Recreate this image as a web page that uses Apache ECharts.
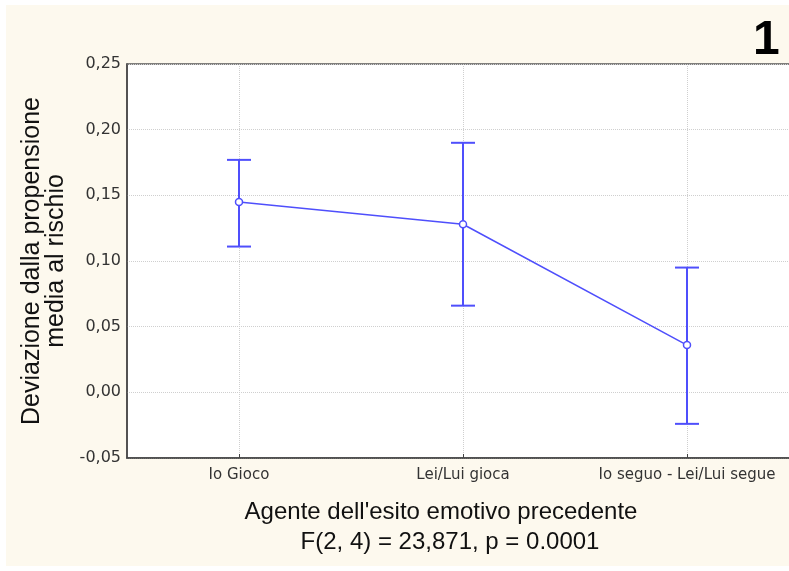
<!DOCTYPE html>
<html>
<head>
<meta charset="utf-8">
<script src="https://cdn.jsdelivr.net/npm/echarts@6/dist/echarts.min.js"></script>
<style>
html,body{margin:0;padding:0;background:#ffffff;overflow:hidden;}
#c{position:absolute;left:6px;top:5px;width:810px;height:561px;}
</style>
</head>
<body>
<div id="c"></div>
<script>
var categories = ['Io Gioco', 'Lei/Lui gioca', 'Io seguo - Lei/Lui segue'];
var means = [0.145, 0.128, 0.036];
var upper = [0.177, 0.190, 0.095];
var lower = [0.111, 0.066, -0.024];
var yTitle = 'Deviazione dalla propensione\nmedia al rischio';
var xTitle = "Agente dell'esito emotivo precedente";
var xSubtitle = 'F(2, 4) = 23,871, p = 0.0001';
var panelLabel = '1';

var labelFont = '"DejaVu Sans", "Liberation Sans", Arial, sans-serif';
var sans = '"Liberation Sans", Arial, sans-serif';
var blue = '#4f4ffc';

var chart = echarts.init(document.getElementById('c'));
var catIdx = categories.map(function (c, i) { return i; });

chart.setOption({
  backgroundColor: '#fdf9ee',
  animation: false,
  title: [
    {
      text: xTitle,
      left: 430,
      top: 490,
      textAlign: 'center',
      textStyle: { fontFamily: sans, fontSize: 24, fontWeight: 'normal', color: '#111' }
    },
    {
      text: xSubtitle,
      left: 439,
      top: 520,
      textAlign: 'center',
      textStyle: { fontFamily: sans, fontSize: 24, fontWeight: 'normal', color: '#111' }
    },
    {
      text: panelLabel,
      left: 742,
      top: 7,
      textStyle: { fontFamily: sans, fontSize: 48, fontWeight: 'bold', color: '#000' }
    }
  ],
  grid: {
    left: 121, top: 59, width: 672, height: 394,
    show: true, backgroundColor: '#ffffff', borderColor: '#555', borderWidth: 1.5
  },
  xAxis: {
    type: 'value',
    min: -0.5, max: 2.5,
    axisLine: { show: true, onZero: false, lineStyle: { color: '#444', width: 1.5 } },
    axisTick: { show: true, inside: true, length: 4, customValues: catIdx, lineStyle: { color: '#444' } },
    axisLabel: {
      customValues: catIdx,
      formatter: function (v) { return categories[Math.round(v)] || ''; },
      fontFamily: labelFont, fontSize: 15, color: '#333', margin: 10
    },
    splitLine: { show: true, customValues: catIdx, lineStyle: { color: '#cfcfcf', type: 'dotted', width: 1 } }
  },
  yAxis: {
    type: 'value',
    min: -0.05, max: 0.25, interval: 0.05,
    name: yTitle,
    nameLocation: 'middle',
    nameGap: 58,
    nameTextStyle: { fontFamily: sans, fontSize: 25, color: '#111', lineHeight: 24, align: 'center' },
    axisLine: { show: true, onZero: false, lineStyle: { color: '#444', width: 1.5 } },
    axisTick: { show: false },
    axisLabel: {
      formatter: function (v) { return v.toFixed(2).replace('.', ','); },
      fontFamily: labelFont, fontSize: 16, color: '#333', margin: 6
    },
    splitLine: { show: true, lineStyle: { color: '#cfcfcf', type: 'dotted', width: 1 } }
  },
  series: [
    {
      type: 'custom',
      data: catIdx.map(function (i) { return [i, lower[i], upper[i]]; }),
      renderItem: function (params, api) {
        var x = api.value(0);
        var lo = api.coord([x, api.value(1)]);
        var hi = api.coord([x, api.value(2)]);
        var half = 12;
        var st = { stroke: blue, lineWidth: 2 };
        return {
          type: 'group',
          children: [
            { type: 'line', shape: { x1: lo[0], y1: lo[1], x2: hi[0], y2: hi[1] }, style: st },
            { type: 'line', shape: { x1: lo[0] - half, y1: lo[1], x2: lo[0] + half, y2: lo[1] }, style: st },
            { type: 'line', shape: { x1: hi[0] - half, y1: hi[1], x2: hi[0] + half, y2: hi[1] }, style: st }
          ]
        };
      },
      z: 2
    },
    {
      type: 'line',
      data: catIdx.map(function (i) { return [i, means[i]]; }),
      symbol: 'circle',
      symbolSize: 7,
      itemStyle: { color: '#ffffff', borderColor: blue, borderWidth: 1.5 },
      lineStyle: { color: blue, width: 1.5 },
      z: 3
    }
  ]
});
</script>
</body>
</html>
